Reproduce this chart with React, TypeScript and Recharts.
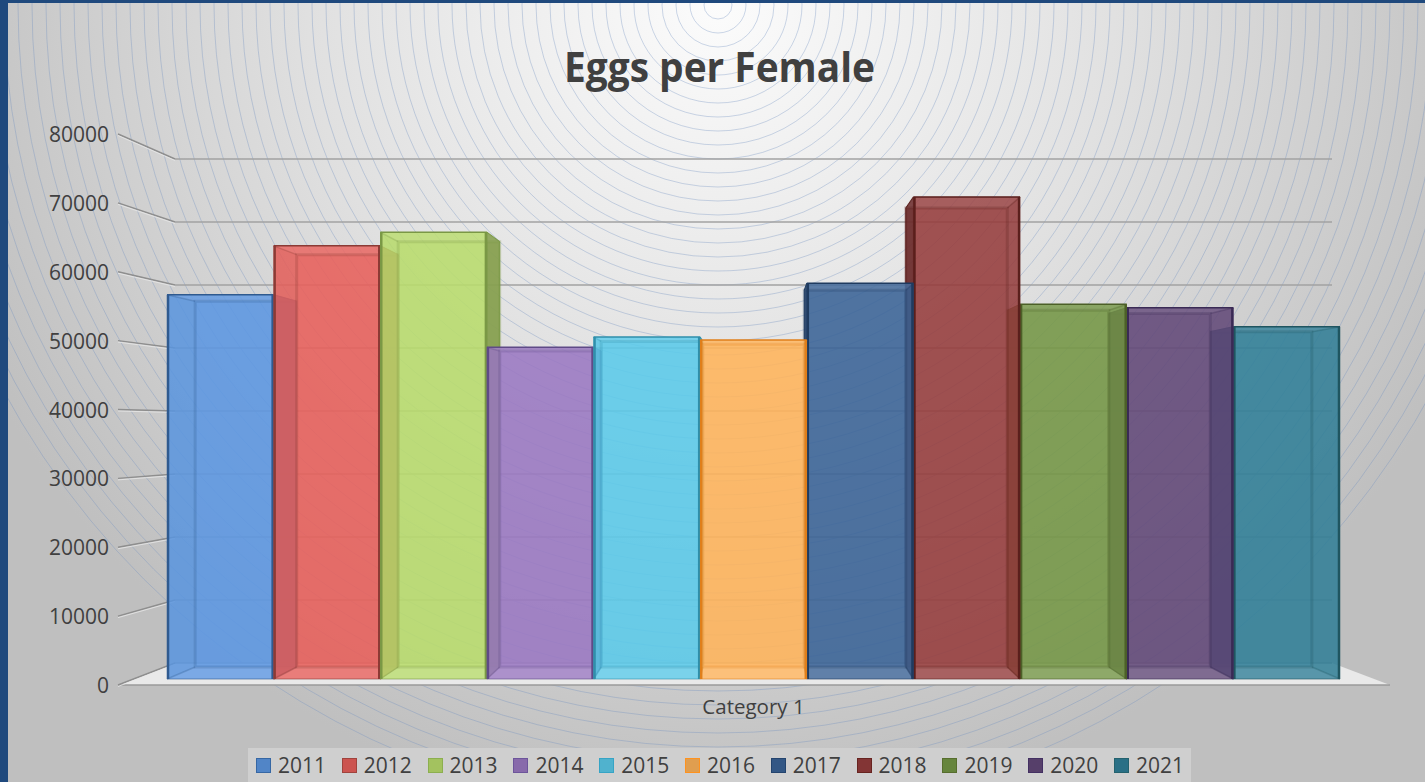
import { BarChart, Bar, XAxis, YAxis, CartesianGrid } from 'recharts'

const YEARS = ['2011', '2012', '2013', '2014', '2015', '2016', '2017', '2018', '2019', '2020', '2021']
const EGGS = [56500, 63700, 65700, 48800, 50300, 49850, 58200, 70900, 55100, 54600, 51800]
const Y_TICKS = [0, 10000, 20000, 30000, 40000, 50000, 60000, 70000, 80000]
const CATEGORY = 'Category 1'

const FACE_COLORS = ['#5c97e2', '#e85f5b', '#b9dc6c', '#9a78c2', '#5bcaea', '#ffb45a', '#3a6397', '#953c3c', '#749745', '#624878', '#307f98']
const EDGE_COLORS = ['#2f5a8f', '#8b3a35', '#7a9845', '#5f4a87', '#2f8fab', '#e07f1a', '#1f3b60', '#5a1f1c', '#4c6028', '#3a2a55', '#1f5560']

const rows = [
  YEARS.reduce<Record<string, string | number>>(
    (row, year, i) => {
      row[year] = EGGS[i]
      return row
    },
    { name: CATEGORY },
  ),
]

const W = 1425
const H = 782
const PLOT_LEFT = 167
const PLOT_RIGHT = 1340
const PLOT_TOP = 135
const PLOT_BOTTOM = 679
const TEXT = '#404040'
const FONT = '"Open Sans", "Noto Sans", sans-serif'

// glass box perspective
const VP_X = (PLOT_LEFT + PLOT_RIGHT) / 2
const VP_Y = 429
const DEPTH = 0.952

const project = (x: number, y: number): [number, number] => [
  VP_X + DEPTH * (x - VP_X),
  VP_Y + DEPTH * (y - VP_Y),
]
const pts = (list: [number, number][]) => list.map((p) => p.join(',')).join(' ')

function shade(hex: string, k: number) {
  const n = parseInt(hex.slice(1), 16)
  const c = [(n >> 16) & 255, (n >> 8) & 255, n & 255].map((v) => Math.min(255, Math.round(v * k)))
  return `rgb(${c.join(',')})`
}

function GlassBar({ x: rawX, y, width: rawWidth, height, index }: any) {
  const fill = FACE_COLORS[index]
  const edge = EDGE_COLORS[index]
  // recharts rounds the bar width, spread the bars back over the whole plot
  const fit = (PLOT_RIGHT - PLOT_LEFT) / (YEARS.length * rawWidth)
  const x = PLOT_LEFT + (rawX - PLOT_LEFT) * fit
  const width = rawWidth * fit
  const r = x + width
  const b = y + height
  const tl = project(x, y)
  const tr = project(r, y)
  const bl = project(x, b)
  const br = project(r, b)
  const leftSide: [number, number][] = [[x, y], tl, bl, [x, b]]
  const rightSide: [number, number][] = [[r, y], tr, br, [r, b]]
  const center = x + width / 2
  const exposed = center < VP_X ? rightSide : leftSide
  const hidden = center < VP_X ? leftSide : rightSide
  const showExposed = Math.abs(center - VP_X) > 1

  return (
    <g>
      <polygon points={pts([tl, tr, br, bl])} fill={fill} fillOpacity={0.18} />
      {showExposed && (
        <polygon
          points={pts(exposed)}
          fill={shade(fill, 0.72)}
          fillOpacity={0.92}
          stroke={edge}
          strokeWidth={1}
        />
      )}
      <rect x={x} y={y} width={width} height={height} fill={fill} fillOpacity={0.85} />
      {/* back frame, seen through the front pane */}
      <polygon points={pts(hidden)} fill={edge} fillOpacity={0.03} />
      <polygon points={pts([[x, y], [r, y], tr, tl])} fill="#ffffff" fillOpacity={0.05} />
      <polygon points={pts([[x, b], [r, b], br, bl])} fill="#ffffff" fillOpacity={0.07} />
      <polygon
        points={pts([tl, tr, br, bl])}
        fill="none"
        stroke={edge}
        strokeOpacity={0.25}
        strokeWidth={3}
      />
      <line x1={x} y1={y} x2={tl[0]} y2={tl[1]} stroke={edge} strokeOpacity={0.3} strokeWidth={1.5} />
      <line x1={r} y1={y} x2={tr[0]} y2={tr[1]} stroke={edge} strokeOpacity={0.3} strokeWidth={1.5} />
      <line x1={x} y1={b} x2={bl[0]} y2={bl[1]} stroke={edge} strokeOpacity={0.3} strokeWidth={1.5} />
      <line x1={r} y1={b} x2={br[0]} y2={br[1]} stroke={edge} strokeOpacity={0.3} strokeWidth={1.5} />
      {/* front pane edges */}
      <line x1={x} y1={y} x2={r} y2={y} stroke={edge} strokeWidth={1.5} />
      <line x1={x} y1={b} x2={r} y2={b} stroke={edge} strokeOpacity={0.6} strokeWidth={1} />
      <line x1={x + 1} y1={y} x2={x + 1} y2={b} stroke={edge} strokeWidth={2.5} />
      <line x1={r - 1} y1={y} x2={r - 1} y2={b} stroke={edge} strokeWidth={2.5} />
    </g>
  )
}

// value axis labels sit on the front corner of the box
const labelY = (y: number) => 685 - ((PLOT_BOTTOM - y) * 551) / 544
const wallY = (y: number) => 663 - ((PLOT_BOTTOM - y) * 504) / 544

function WallLine({ y1 }: any) {
  const back = wallY(y1)
  const front = labelY(y1)
  return (
    <g>
      <line x1={118} y1={front} x2={175} y2={back} stroke="#8e8e8e" strokeWidth={1.4} />
      <line x1={118} y1={front + 1.5} x2={175} y2={back + 1.5} stroke="#e8e8e8" strokeWidth={0.8} />
      <line x1={175} y1={back} x2={1332} y2={back} stroke="#a2a2a2" strokeWidth={1.4} />
    </g>
  )
}

function ValueTick({ y, payload }: any) {
  return (
    <text
      x={109}
      y={labelY(y)}
      textAnchor="end"
      dominantBaseline="central"
      fontSize={21}
      fontFamily={FONT}
      fill={TEXT}
    >
      {payload.value}
    </text>
  )
}

const ARC_RADII = Array.from({ length: 58 }, (_, i) => 14 + i * 14)

function Backdrop() {
  return (
    <svg width={W} height={H} style={{ position: 'absolute', left: 0, top: 0 }}>
      <defs>
        <radialGradient id="wallGlow" gradientUnits="userSpaceOnUse" cx={718} cy={5} r={820}>
          <stop offset="0" stopColor="#fcfcfc" />
          <stop offset="0.5" stopColor="#e0e0e0" />
          <stop offset="1" stopColor="#bfbfbf" />
        </radialGradient>
      </defs>
      <rect x={0} y={0} width={W} height={H} fill="url(#wallGlow)" />
      {ARC_RADII.map((r) => (
        <circle key={r} cx={718} cy={5} r={r} fill="none" stroke="#6f8fc0" strokeOpacity={0.5} strokeWidth={0.7} />
      ))}
      <polygon points="118,685 1390,685 1332,663 175,663" fill="#e9e9e9" />
      <line x1={118} y1={685} x2={1390} y2={685} stroke="#9a9a9a" strokeWidth={1.4} />
      <text
        x={719.5}
        y={65}
        textAnchor="middle"
        dominantBaseline="central"
        fontSize={42}
        fontWeight={700}
        fontFamily={FONT}
        fill={TEXT}
        textLength={311}
        lengthAdjust="spacingAndGlyphs"
      >
        Eggs per Female
      </text>
    </svg>
  )
}

function YearLegend() {
  return (
    <div
      style={{
        position: 'absolute',
        left: 248,
        top: 748,
        width: 943,
        height: 34,
        background: '#cfcfcf',
        display: 'flex',
        alignItems: 'center',
        paddingLeft: 8,
        boxSizing: 'border-box',
        fontFamily: FONT,
        fontSize: 21,
        color: TEXT,
      }}
    >
      {YEARS.map((year, i) => (
        <div key={year} style={{ width: 85.8, display: 'flex', alignItems: 'center', flexShrink: 0 }}>
          <span
            style={{
              width: 13,
              height: 13,
              marginRight: 7,
              background: shade(FACE_COLORS[i], 0.88),
              border: `1px solid ${shade(EDGE_COLORS[i], 1.15)}`,
            }}
          />
          <span>{year}</span>
        </div>
      ))}
    </div>
  )
}

// bars nearer the middle of the picture paint over their neighbours
const paintOrder = (i: number) => 300 + (i <= 5 ? i : 10 - i)

export default function App() {
  return (
    <div style={{ position: 'absolute', left: 0, top: 0, width: W, height: H, overflow: 'hidden', background: '#bfbfbf' }}>
      <Backdrop />
      <div style={{ position: 'absolute', left: 0, top: 0 }}>
        <BarChart
          width={W}
          height={H}
          data={rows}
          barGap={0}
          barCategoryGap={0}
          margin={{ left: PLOT_LEFT - 60, right: W - PLOT_RIGHT, top: PLOT_TOP, bottom: H - PLOT_BOTTOM - 30 }}
        >
          <CartesianGrid vertical={false} horizontal={WallLine as any} />
          <XAxis
            dataKey="name"
            height={30}
            axisLine={false}
            tickLine={false}
            tickMargin={14}
            tick={{ fontSize: 20.5, fontFamily: FONT, fill: TEXT }}
          />
          <YAxis
            width={60}
            domain={[0, 80000]}
            ticks={Y_TICKS}
            axisLine={false}
            tickLine={false}
            tick={ValueTick as any}
          />
          {YEARS.map((year, i) => (
            <Bar
              key={year}
              dataKey={year}
              isAnimationActive={false}
              fill={FACE_COLORS[i]}
              zIndex={paintOrder(i)}
              shape={(p: any) => <GlassBar {...p} index={i} />}
            />
          ))}
        </BarChart>
      </div>
      <div style={{ position: 'absolute', left: 0, top: 0, width: 8, height: H, background: '#1f497d' }} />
      <div style={{ position: 'absolute', left: 0, top: 0, width: W, height: 3, background: '#1f497d' }} />
      <YearLegend />
    </div>
  )
}
